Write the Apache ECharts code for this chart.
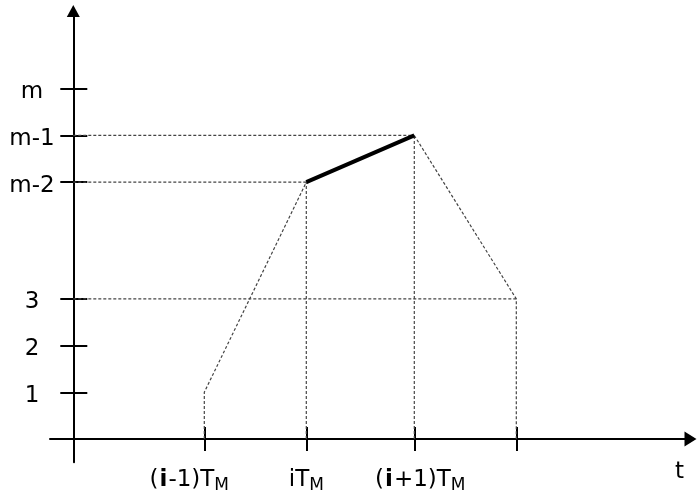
<!DOCTYPE html>
<html>
<head>
<meta charset="utf-8">
<style>html,body{margin:0;padding:0;background:#fff;}#c{width:698px;height:494px;}</style>
<script src="https://cdn.jsdelivr.net/npm/echarts@6/dist/echarts.min.js"></script>
</head>
<body>
<div id="c"></div>
<script>
// tick positions on the time axis (y-axis sits at t = 0)
const xTicks = [1.31, 2.33, 3.41, 4.43];
const xTickLabels = [
  '{p|(}{b|i}{p|-1)T}{sL|M}',
  '{p|iT}{s|M}',
  '{pR|(}{b|i}{p|+1)T}{s|M}',
  ''
];
// level ticks
const yTicks = [1, 2, 3, 5.5, 6.5, 7.5];
const yTickLabels = ['1', '2', '3', 'm-2', 'm-1', 'm'];

// profile points
const rampUp = [[1.31, 0], [1.31, 1], [2.33, 5.5]];     // dotted rise
const activeSeg = [[2.33, 5.5], [3.41, 6.5]];           // thick segment
const rampDown = [[3.41, 6.5], [4.43, 3], [4.43, 0]];   // dotted fall
const vert1 = [[2.33, 0], [2.33, 5.5]];
const vert2 = [[3.41, 0], [3.41, 6.5]];
const hLevelA = [[0, 5.5], [2.33, 5.5]];
const hLevelB = [[0, 6.5], [3.41, 6.5]];
const hLevel3 = [[0, 3], [4.43, 3]];

const FONT = '"DejaVu Sans", sans-serif';
const dotted = { color: '#444', width: 1.2, type: [3, 2] };
function dotSeries(data) {
  return { type: 'line', data: data, symbol: 'none', lineStyle: dotted, silent: true, z: 2 };
}
const base = { fontFamily: FONT, fontSize: 23, color: '#000', lineHeight: 28 };
const sub = { fontFamily: FONT, fontSize: 17, color: '#000', lineHeight: 16, verticalAlign: 'bottom' };

const chart = echarts.init(document.getElementById('c'), null, { renderer: 'canvas' });
chart.setOption({
  animation: false,
  grid: { left: 50, right: 7.5, top: 11, bottom: 31.65, containLabel: false, outerBoundsMode: 'none' },
  xAxis: [{
    type: 'value', min: -0.233, max: 6.172, position: 'bottom',
    axisLine: { onZero: true, lineStyle: { color: '#000', width: 2 }, symbol: ['none', 'triangle'], symbolSize: [15, 12] },
    axisTick: { show: true, customValues: xTicks, length: 12, lineStyle: { color: '#000', width: 2 } },
    axisLabel: {
      customValues: xTicks.slice(0, 3), margin: 4,
      formatter: function (v) { const i = xTicks.indexOf(v); return i >= 0 ? xTickLabels[i] : ''; },
      rich: {
        p: base,
        pR: Object.assign({}, base, { padding: [0, 0, 0, 12] }),
        b: Object.assign({}, base, { fontWeight: 'bold', padding: [0, 1, 0, 1] }),
        s: sub,
        sL: Object.assign({}, sub, { padding: [0, 30, 0, 0] })
      }
    },
    splitLine: { show: false },
    name: 't', nameLocation: 'end', nameGap: -11,
    nameTextStyle: { fontFamily: FONT, fontSize: 23, color: '#000', align: 'center', verticalAlign: 'top', padding: [22, 0, 0, 0] }
  }, {
    type: 'value', min: -0.233, max: 6.172, position: 'bottom',
    axisLine: { show: true, onZero: true, lineStyle: { opacity: 0 } },
    axisTick: { show: true, inside: true, customValues: xTicks, length: 12, lineStyle: { color: '#000', width: 2 } },
    axisLabel: { show: false },
    splitLine: { show: false }
  }],
  yAxis: [{
    type: 'value', min: -0.5, max: 9.165, position: 'left',
    axisLine: { onZero: true, lineStyle: { color: '#000', width: 2 }, symbol: ['none', 'triangle'], symbolSize: [13, 12] },
    axisTick: { show: true, customValues: yTicks, length: 13, lineStyle: { color: '#000', width: 2 } },
    axisLabel: {
      customValues: yTicks, margin: 18, align: 'center',
      formatter: function (v) { const i = yTicks.indexOf(v); return i >= 0 ? '{c|' + yTickLabels[i] + '}' : ''; },
      rich: { c: { fontFamily: FONT, fontSize: 23, color: '#000', padding: [7, 0, 0, 0] } }
    },
    splitLine: { show: false }
  }, {
    type: 'value', min: -0.5, max: 9.165, position: 'left',
    axisLine: { show: true, onZero: true, lineStyle: { opacity: 0 } },
    axisTick: { show: true, inside: true, customValues: yTicks, length: 14, lineStyle: { color: '#000', width: 2 } },
    axisLabel: { show: false },
    splitLine: { show: false }
  }],
  series: [
    dotSeries(rampUp),
    dotSeries(rampDown),
    dotSeries(vert1),
    dotSeries(vert2),
    dotSeries(hLevelA),
    dotSeries(hLevelB),
    dotSeries(hLevel3),
    { type: 'line', data: activeSeg, symbol: 'none', lineStyle: { color: '#000', width: 4 }, z: 3 }
  ]
});
</script>
</body>
</html>
